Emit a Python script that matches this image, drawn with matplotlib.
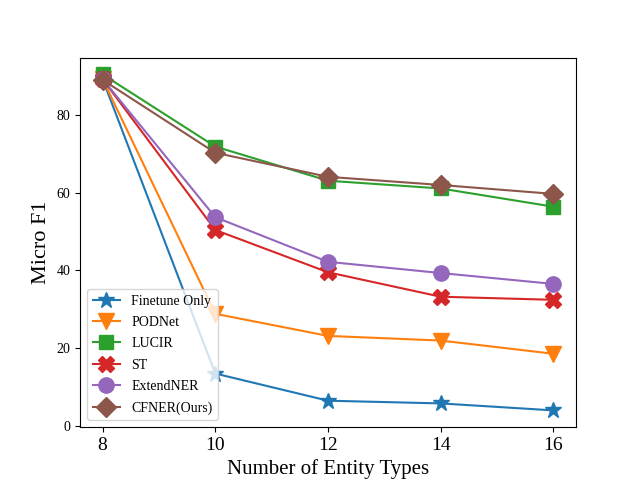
import matplotlib
matplotlib.use('Agg')
import matplotlib.pyplot as plt

plt.rcParams['font.family'] = ['Liberation Serif', 'DejaVu Serif']

entity_types = [8, 10, 12, 14, 16]
finetune = [89.3, 13.4, 6.4, 5.7, 3.9]
podnet = [89.3, 28.8, 23.1, 21.9, 18.5]
lucir = [90.5, 71.9, 63.1, 61.1, 56.4]
st = [89.3, 50.4, 39.5, 33.2, 32.4]
extendner = [89.3, 53.7, 42.2, 39.3, 36.5]
cfner = [89.1, 70.3, 64.1, 62.0, 59.7]

plt.figure(figsize=(6.4, 4.8))
plt.plot(entity_types, finetune, marker='*', markersize=12, label='Finetune Only')
plt.plot(entity_types, podnet, marker='v', markersize=11, label='PODNet')
plt.plot(entity_types, lucir, marker='s', markersize=10, label='LUCIR')
plt.plot(entity_types, st, marker='X', markersize=11, label='ST')
plt.plot(entity_types, extendner, marker='o', markersize=11, label='ExtendNER')
plt.plot(entity_types, cfner, marker='D', markersize=10, label='CFNER(Ours)')
plt.xlabel('Number of Entity Types', fontsize=15)
plt.ylabel('Micro F1', fontsize=16)
plt.xticks(entity_types, fontsize=14)
plt.yticks(fontsize=10)
plt.legend(loc='lower left', fontsize=10, labelspacing=0.6)
plt.savefig('out.png')
